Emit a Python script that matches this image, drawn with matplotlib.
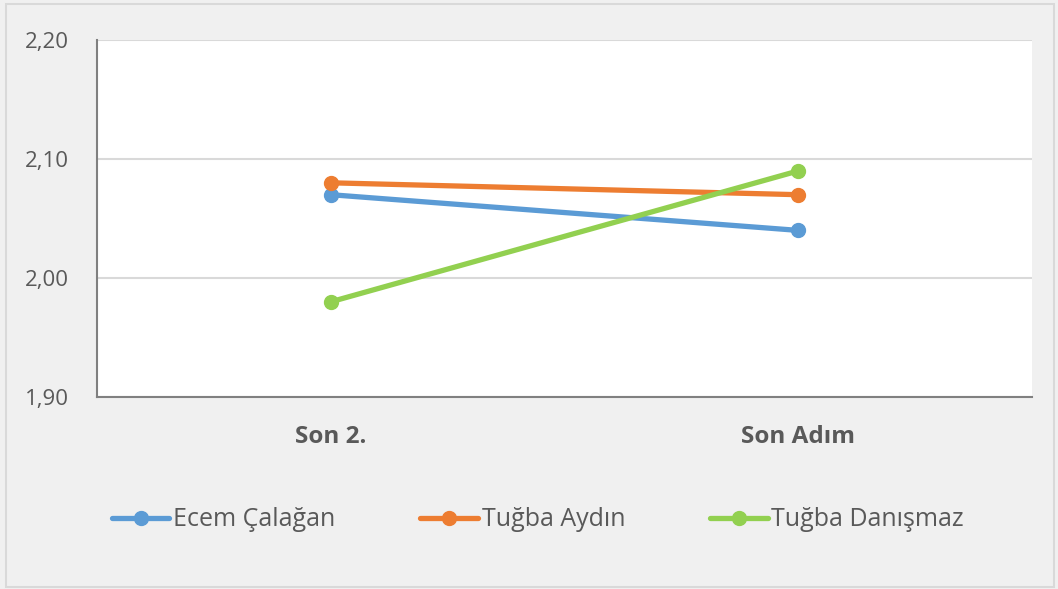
import matplotlib
matplotlib.use("Agg")
import matplotlib.pyplot as plt
from matplotlib.patches import Rectangle
from matplotlib.ticker import FuncFormatter

categories = ["Son 2.", "Son Adım"]
series_names = ["Ecem Çalağan", "Tuğba Aydın", "Tuğba Danışmaz"]
ecem = [2.07, 2.04]
aydin = [2.08, 2.07]
danismaz = [1.98, 2.09]
yticks = [1.90, 2.00, 2.10, 2.20]

colors = ["#5b9bd5", "#ed7d31", "#92d050"]
plt.rcParams['font.family'] = ['Open Sans', 'DejaVu Sans']

fig = plt.figure(figsize=(10.58, 5.89), dpi=100)
fig.patch.set_facecolor("#f0f0f0")
fig.patches.append(Rectangle((6/1058, 2/589), 1048/1058, 583/589, transform=fig.transFigure,
                             fill=False, edgecolor="#d9d9d9", linewidth=1.5))

ax = fig.add_axes([97/1058, 1-397/589, 935/1058, 357/589])
ax.set_facecolor("white")
x = list(range(len(categories)))
for name, vals, c in zip(series_names, [ecem, aydin, danismaz], colors):
    ax.plot(x, vals, color=c, linewidth=3.8, marker='o', markersize=10,
            solid_capstyle='round', label=name, zorder=3)

ax.set_xlim(-0.5, 1.5)
ax.set_ylim(1.90, 2.20)
ax.set_yticks(yticks)
ax.yaxis.set_major_formatter(FuncFormatter(lambda v, p: f"{v:.2f}".replace('.', ',')))
ax.set_xticks(x)
ax.set_xticklabels(categories, fontweight='bold', fontsize=17.5, color="#595959")
ax.tick_params(axis='x', length=0, pad=20)
ax.tick_params(axis='y', length=0, pad=52, labelsize=16, labelcolor="#595959")
for lbl in ax.get_yticklabels():
    lbl.set_horizontalalignment('left')
ax.grid(axis='y', color="#d9d9d9", linewidth=1.5)
ax.set_axisbelow(True)
for s in ["top", "right"]:
    ax.spines[s].set_visible(False)
for s in ["left", "bottom"]:
    ax.spines[s].set_color("#808080")
    ax.spines[s].set_linewidth(1.5)

fig.legend(loc='center', bbox_to_anchor=(0.5085, 1-520/589), ncol=3, frameon=False,
           fontsize=18, labelcolor="#595959", handlelength=2.3, handletextpad=0.15,
           columnspacing=3.4)

fig.savefig("out.png", dpi=100, facecolor=fig.get_facecolor())
